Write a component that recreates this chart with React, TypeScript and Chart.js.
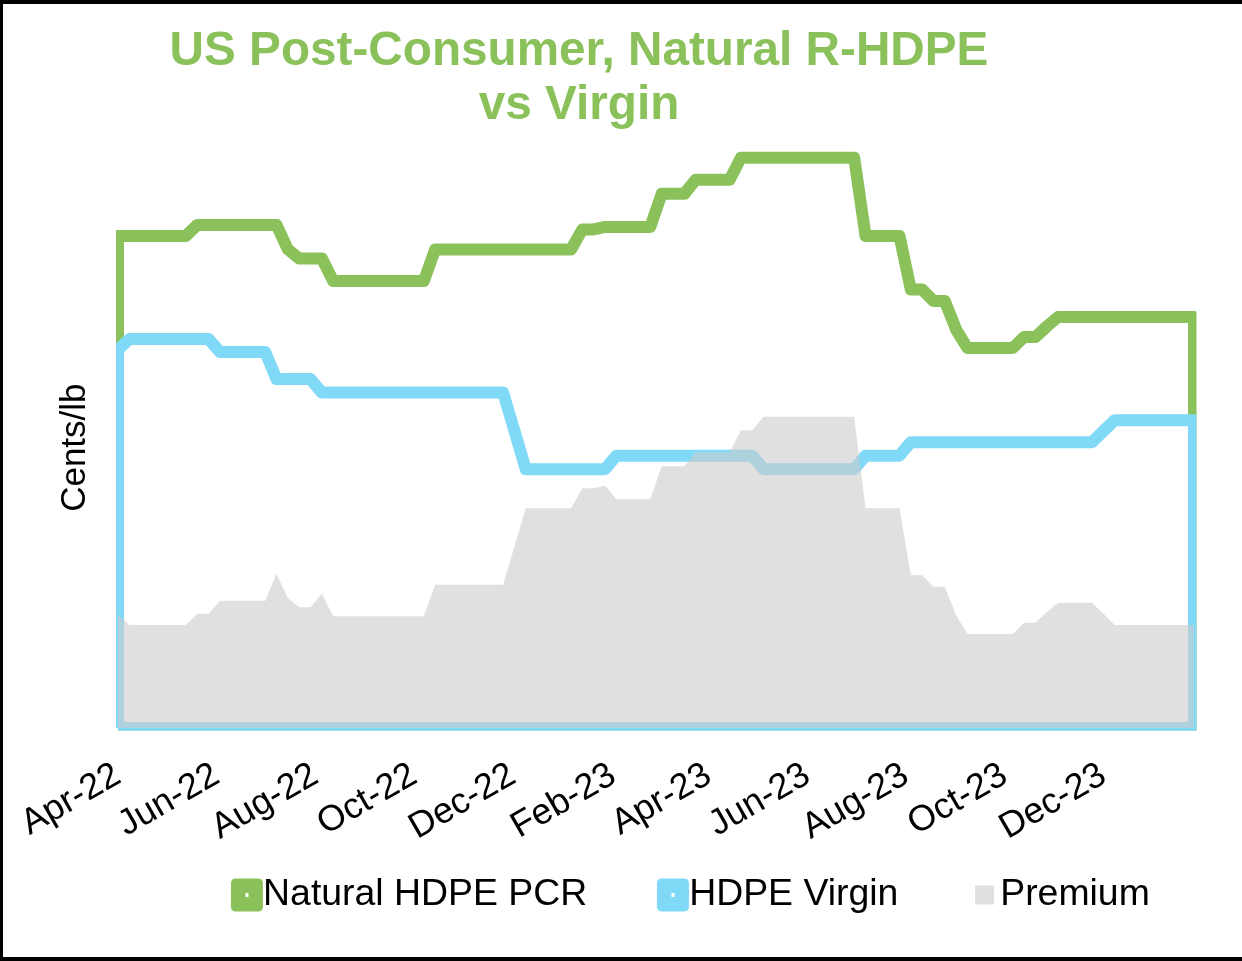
import React, { useEffect, useRef } from 'react';
import { Chart, registerables } from 'chart.js';

Chart.register(...registerables);

const chartTitle = ['US Post-Consumer, Natural R-HDPE', 'vs Virgin'];
const yAxisLabel = 'Cents/lb';
const seriesLabels = ['Natural HDPE PCR', 'HDPE Virgin', 'Premium'];

// x axis: days since 1-Apr-2022; one observation per week
const weekDays = 7;
const tickDays = [0, 61, 122, 183, 244, 306, 365, 426, 487, 548, 609];
const tickLabels = ['Apr-22', 'Jun-22', 'Aug-22', 'Oct-22', 'Dec-22', 'Feb-23', 'Apr-23', 'Jun-23', 'Aug-23', 'Oct-23', 'Dec-23'];

// Natural HDPE PCR, cents/lb (weekly)
const pcrValues = [
  98.3, 98.3, 98.3, 98.3, 98.3, 98.3, 98.3,
  100.5, 100.5, 100.5, 100.5, 100.5, 100.5, 100.5, 100.5,
  95.6,
  93.8, 93.8, 93.8,
  89.3, 89.3, 89.3, 89.3, 89.3, 89.3, 89.3, 89.3, 89.3,
  95.6, 95.6, 95.6, 95.6, 95.6, 95.6, 95.6, 95.6, 95.6, 95.6, 95.6, 95.6, 95.6,
  99.6, 99.6,
  100.1, 100.1, 100.1, 100.1, 100.1,
  106.7, 106.7, 106.7,
  109.5, 109.5, 109.5, 109.5,
  113.9, 113.9, 113.9, 113.9, 113.9, 113.9, 113.9, 113.9, 113.9, 113.9, 113.9,
  98.3, 98.3, 98.3, 98.3,
  87.6, 87.6,
  85.3, 85.3,
  79.6,
  75.9, 75.9, 75.9, 75.9, 75.9,
  78.1, 78.1,
  80.2,
  82.1, 82.1, 82.1, 82.1, 82.1, 82.1, 82.1, 82.1, 82.1, 82.1, 82.1, 82.1, 82.1,
];

// HDPE Virgin, cents/lb (weekly)
const virginValues = [
  75.6,
  77.7, 77.7, 77.7, 77.7, 77.7, 77.7, 77.7, 77.7,
  75.1, 75.1, 75.1, 75.1, 75.1,
  69.7, 69.7, 69.7, 69.7,
  67.0, 67.0, 67.0, 67.0, 67.0, 67.0, 67.0, 67.0, 67.0, 67.0, 67.0, 67.0, 67.0, 67.0, 67.0, 67.0, 67.0,
  59.4,
  51.7, 51.7, 51.7, 51.7, 51.7, 51.7, 51.7, 51.7,
  54.4, 54.4, 54.4, 54.4, 54.4, 54.4, 54.4, 54.4, 54.4, 54.4, 54.4, 54.4, 54.4,
  51.7, 51.7, 51.7, 51.7, 51.7, 51.7, 51.7, 51.7, 51.7,
  54.4, 54.4, 54.4, 54.4,
  57.1, 57.1, 57.1, 57.1, 57.1, 57.1, 57.1, 57.1, 57.1, 57.1, 57.1, 57.1, 57.1, 57.1, 57.1, 57.1, 57.1,
  59.3,
  61.5, 61.5, 61.5, 61.5, 61.5, 61.5, 61.5, 61.5,
];

// Premium (PCR over virgin), cents/lb (weekly)
const premiumValues = [
  22.7,
  20.6, 20.6, 20.6, 20.6, 20.6, 20.6,
  22.8, 22.8,
  25.4, 25.4, 25.4, 25.4, 25.4,
  30.8,
  25.9,
  24.1, 24.1,
  26.8,
  22.3, 22.3, 22.3, 22.3, 22.3, 22.3, 22.3, 22.3, 22.3,
  28.6, 28.6, 28.6, 28.6, 28.6, 28.6, 28.6,
  36.2,
  43.9, 43.9, 43.9, 43.9, 43.9,
  47.9, 47.9,
  48.4,
  45.7, 45.7, 45.7, 45.7,
  52.3, 52.3, 52.3,
  55.1, 55.1, 55.1, 55.1,
  59.5, 59.5,
  62.2, 62.2, 62.2, 62.2, 62.2, 62.2, 62.2, 62.2, 62.2,
  43.9, 43.9, 43.9, 43.9,
  30.5, 30.5,
  28.2, 28.2,
  22.5,
  18.8, 18.8, 18.8, 18.8, 18.8,
  21.0, 21.0,
  23.1,
  25.0, 25.0, 25.0, 25.0,
  22.8,
  20.6, 20.6, 20.6, 20.6, 20.6, 20.6, 20.6, 20.6,
];

const GREEN = '#8BC15B';
const BLUE = '#80DAF7';
const GRAY_FILL = 'rgba(203,203,203,0.6)';
const GRAY_SWATCH = '#E0E0E0';
const FONT = 'Liberation Sans, Arial, sans-serif';

const CANVAS_LEFT = -74;
const CANVAS_W = 1316;
const CANVAS_H = 970;

const toPoints = (vals: number[]) => vals.map((v, i) => ({ x: i * weekDays, y: v }));
// outline of an Excel-style area: up the left edge, along the values, down the right edge, back along the base
const toOutline = (vals: number[]) => {
  const last = (vals.length - 1) * weekDays;
  return [{ x: 0, y: 0 }, ...toPoints(vals), { x: last, y: 0 }, { x: 0, y: 0 }];
};

function makeMarker(kind: 'round' | 'square', color: string): HTMLCanvasElement {
  const c = document.createElement('canvas');
  c.width = 44;
  c.height = 34;
  const ctx = c.getContext('2d')!;
  ctx.fillStyle = color;
  if (kind === 'round') {
    const x = 9, y = 0.5, w = 32, h = 33, r = 5;
    ctx.beginPath();
    ctx.moveTo(x + r, y);
    ctx.lineTo(x + w - r, y);
    ctx.quadraticCurveTo(x + w, y, x + w, y + r);
    ctx.lineTo(x + w, y + h - r);
    ctx.quadraticCurveTo(x + w, y + h, x + w - r, y + h);
    ctx.lineTo(x + r, y + h);
    ctx.quadraticCurveTo(x, y + h, x, y + h - r);
    ctx.lineTo(x, y + r);
    ctx.quadraticCurveTo(x, y, x + r, y);
    ctx.closePath();
    ctx.fill();
    ctx.fillStyle = '#ffffff';
    ctx.fillRect(x + w / 2 - 1.5, y + h / 2 - 2, 3, 4);
  } else {
    ctx.fillRect(16, 7.5, 19, 19);
  }
  return c;
}

// moves the legend up into the band under the rotated month labels
const legendShift = {
  id: 'legendShift',
  afterLayout(chart: any) {
    const lg = chart.legend;
    if (lg) {
      lg.top -= 48.9;
      lg.bottom -= 48.9;
    }
  },
};

export default function App() {
  const ref = useRef<HTMLCanvasElement>(null);

  useEffect(() => {
    if (!ref.current) return;
    const markers = [makeMarker('round', GREEN), makeMarker('round', BLUE), makeMarker('square', GRAY_SWATCH)];
    const lineClip = { left: 2, top: false, right: -35.5, bottom: 2.5 } as any;

    const chart = new Chart(ref.current, {
      type: 'line',
      data: {
        datasets: [
          {
            label: seriesLabels[0],
            data: toOutline(pcrValues),
            borderColor: GREEN,
            backgroundColor: GREEN,
            borderWidth: 12,
            borderJoinStyle: 'round',
            borderCapStyle: 'butt',
            pointRadius: 0,
            fill: false,
            tension: 0,
            order: 3,
            clip: lineClip,
          },
          {
            label: seriesLabels[1],
            data: toOutline(virginValues),
            borderColor: BLUE,
            backgroundColor: BLUE,
            borderWidth: 12,
            borderJoinStyle: 'round',
            borderCapStyle: 'butt',
            pointRadius: 0,
            fill: false,
            tension: 0,
            order: 2,
            clip: lineClip,
          },
          {
            label: seriesLabels[2],
            data: toPoints(premiumValues),
            borderColor: 'transparent',
            backgroundColor: GRAY_FILL,
            borderWidth: 0,
            pointRadius: 0,
            fill: 'origin',
            tension: 0,
            order: 1,
            clip: lineClip,
          },
        ],
      },
      options: {
        responsive: false,
        animation: false,
        devicePixelRatio: 1,
        events: [],
        layout: { padding: { left: 0, right: 10, top: 0, bottom: 1.4 } },
        scales: {
          x: {
            type: 'linear',
            min: 0,
            max: 688.5,
            afterBuildTicks: (scale: any) => {
              scale.ticks = tickDays.map((d) => ({ value: d }));
            },
            afterFit: (scale: any) => {
              scale.height = 115;
            },
            ticks: {
              autoSkip: false,
              minRotation: 30,
              maxRotation: 30,
              padding: 26,
              color: '#000',
              font: { family: FONT, size: 36 },
              callback: (_v: any, i: number) => tickLabels[i],
            },
            grid: { display: false, drawTicks: false },
            border: { display: false },
          },
          y: {
            min: 0,
            max: 112,
            ticks: { display: false },
            grid: { display: false, drawTicks: false },
            border: { display: false },
            title: {
              display: true,
              text: yAxisLabel,
              color: '#000',
              font: { family: FONT, size: 35, lineHeight: 1.2 },
              padding: { top: 128, bottom: 22 },
            },
          },
        },
        plugins: {
          title: {
            display: true,
            text: chartTitle,
            color: GREEN,
            font: { family: FONT, size: 47.7, weight: 'bold', lineHeight: 1.125 },
            padding: { top: 20.9, bottom: 35.1 },
          },
          legend: {
            display: true,
            position: 'bottom',
            align: 'end',
            labels: {
              usePointStyle: true,
              pointStyleWidth: 1,
              boxHeight: 37,
              padding: 82.2,
              color: '#000',
              font: { family: FONT, size: 37.4 },
              generateLabels: (c: any) => {
                const base = (Chart.defaults.plugins.legend.labels as any).generateLabels(c);
                return base
                  .sort((a: any, b: any) => a.datasetIndex - b.datasetIndex)
                  .map((it: any) => ({ ...it, pointStyle: markers[it.datasetIndex], fontColor: '#000' }));
              },
            },
          },
          tooltip: { enabled: false },
        },
      },
      plugins: [legendShift],
    } as any);

    return () => chart.destroy();
  }, []);

  return (
    <div style={{ position: 'absolute', left: 0, top: 0, width: 1242, height: 961, overflow: 'hidden', background: '#fff' }}>
      <canvas
        ref={ref}
        width={CANVAS_W}
        height={CANVAS_H}
        style={{ position: 'absolute', left: CANVAS_LEFT, top: 4, width: CANVAS_W, height: CANVAS_H }}
      />
      <div style={{ position: 'absolute', left: 0, top: 0, width: 3, height: 961, background: '#000' }} />
      <div style={{ position: 'absolute', left: 0, top: 0, width: 1242, height: 4, background: '#000' }} />
      <div style={{ position: 'absolute', left: 0, top: 957, width: 1242, height: 4, background: '#000' }} />
    </div>
  );
}
